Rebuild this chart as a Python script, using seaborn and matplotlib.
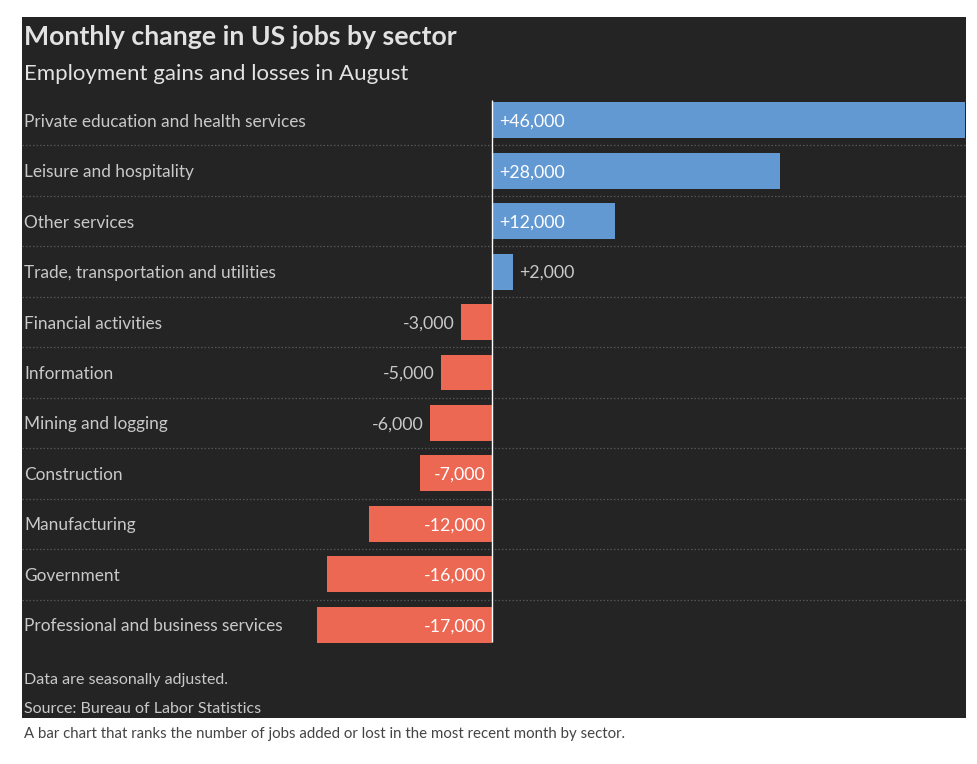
import pandas as pd
import numpy as np
import matplotlib
matplotlib.use("Agg")
import matplotlib.pyplot as plt
import seaborn as sns
from matplotlib.patches import Rectangle

# data
sectors = [
    "Private education and health services",
    "Leisure and hospitality",
    "Other services",
    "Trade, transportation and utilities",
    "Financial activities",
    "Information",
    "Mining and logging",
    "Construction",
    "Manufacturing",
    "Government",
    "Professional and business services",
]
changes = [46000, 28000, 12000, 2000, -3000, -5000, -6000, -7000, -12000, -16000, -17000]

df = pd.DataFrame({"sector": sectors, "change": changes})
df["sign"] = np.where(df["change"] >= 0, "gain", "loss")

# style
sns.set_theme(style="white")
plt.rcParams["font.family"] = ["Lato", "DejaVu Sans"]

BG = "#242424"
BLUE = "#6399d3"
RED = "#ec6853"
TXT = "#c9c9c9"
W, H = 978, 764

fig = plt.figure(figsize=(W / 100, H / 100), dpi=100, facecolor="white")

# dark panel (behind the axes)
fig.patches.append(Rectangle((22 / W, 1 - 718 / H), (966 - 22) / W, (718 - 17) / H,
                             transform=fig.transFigure, facecolor=BG, edgecolor="none", zorder=-1))

ax = fig.add_axes([22 / W, 1 - 650 / H, (966 - 22) / W, (650 - 95) / H])
ax.set_facecolor("none")

sns.barplot(data=df, x="change", y="sector", hue="sign",
            palette={"gain": BLUE, "loss": RED}, orient="h",
            width=0.71, dodge=False, legend=False, ax=ax,
            edgecolor="none", saturation=1)

ax.set_xlim(-45700, 46100)
ax.set_ylim(10.5, -0.5)

# dotted row separators
for i in range(len(sectors) - 1):
    ax.axhline(i + 0.5, color="#555555", lw=0.9, ls=(0, (1.2, 1.6)), zorder=1)

# zero line
ax.vlines(0, -0.4, 10.35, color="white", lw=1, zorder=3)

# sector labels
for i, s in enumerate(sectors):
    ax.text(-45500, i, s, ha="left", va="center_baseline", color=TXT, fontsize=12.4)

# value labels
for i, v in enumerate(changes):
    lab = f"{v:+,}"
    inside = abs(v) >= 7000
    if v >= 0:
        if inside:
            ax.text(650, i, lab, ha="left", va="center_baseline", color="white", fontsize=12.8)
        else:
            ax.text(v + 650, i, lab, ha="left", va="center_baseline", color=TXT, fontsize=12.8)
    else:
        if inside:
            ax.text(-600, i, lab, ha="right", va="center_baseline", color="white", fontsize=12.8)
        else:
            ax.text(v - 600, i, lab, ha="right", va="center_baseline", color=TXT, fontsize=12.8)

ax.set_xlabel("")
ax.set_ylabel("")
ax.set_xticks([])
ax.set_yticks([])
sns.despine(ax=ax, left=True, bottom=True)

# titles and notes
fig.text(24 / W, 1 - 37 / H, "Monthly change in US jobs by sector", ha="left", va="center",
         color="#e2e2e2", fontsize=19.2, fontweight="bold")
fig.text(24 / W, 1 - 74 / H, "Employment gains and losses in August", ha="left", va="center",
         color="#e2e2e2", fontsize=16)
fig.text(24 / W, 1 - 680 / H, "Data are seasonally adjusted.", ha="left", va="center",
         color=TXT, fontsize=11.5)
fig.text(24 / W, 1 - 709 / H, "Source: Bureau of Labor Statistics", ha="left", va="center",
         color=TXT, fontsize=11.5)
fig.text(24 / W, 1 - 734 / H,
         "A bar chart that ranks the number of jobs added or lost in the most recent month by sector.",
         ha="left", va="center", color="#444444", fontsize=10.8)

fig.savefig("out.png", dpi=100, facecolor="white")
